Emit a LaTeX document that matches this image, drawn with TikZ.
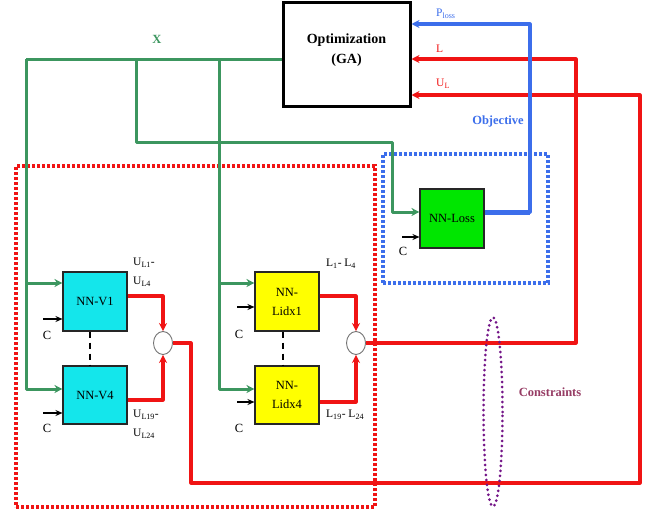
\documentclass[tikz,border=0pt]{standalone}
\usepackage{fontspec}
\setmainfont{Liberation Serif}
\usetikzlibrary{arrows.meta,shapes.geometric}
\definecolor{gline}{RGB}{60,150,95}
\definecolor{rline}{RGB}{240,20,20}
\definecolor{bline}{RGB}{60,110,235}
\definecolor{cyanfill}{RGB}{20,230,235}
\definecolor{yelfill}{RGB}{255,255,0}
\definecolor{lossfill}{RGB}{0,230,0}
\definecolor{purptext}{RGB}{150,60,100}
\definecolor{purpline}{RGB}{115,20,135}
\tikzset{
 nnbox/.style={draw=black!85, line width=1.1pt, minimum width=64pt, minimum height=59pt, inner sep=0pt, font=\fontsize{12.5}{19}\selectfont, align=center},
 sumnode/.style={ellipse, draw=black!55, line width=0.9pt, fill=white, minimum width=19pt, minimum height=23pt, inner sep=0pt},
 gl/.style={draw=gline, line width=3pt, line join=round},
 rl/.style={draw=rline, line width=3.2pt, line join=round},
 bl/.style={draw=bline, line width=3.2pt, line join=round},
 arr/.style={-{Stealth[length=8pt,width=8pt]}},
 carrow/.style={draw=black, line width=1.1pt, -{Stealth[length=7pt,width=6pt]}},
 lab/.style={font=\fontsize{11.5}{19}\selectfont, inner sep=0pt},
 clab/.style={font=\fontsize{12.5}{14}\selectfont, inner sep=0pt},
 blab/.style={font=\bfseries\fontsize{12.5}{14}\selectfont, inner sep=0pt},
 groupbox/.style={line width=3.2pt, dash pattern=on 3pt off 2pt, inner sep=0pt},
}
\begin{document}
\begin{tikzpicture}[x=1pt,y=-1pt]
\useasboundingbox (0,0) rectangle (651,514);
% grouping boxes
\node[groupbox, draw=rline, minimum width=359pt, minimum height=341pt] (cbox) at (195.5,336.5) {};
\node[groupbox, draw=bline, minimum width=165pt, minimum height=129pt] (obox) at (465.5,218.5) {};
% main nodes
\node[draw, line width=3pt, minimum width=127pt, minimum height=104pt] (opt) at (346.5,54) {};
\node[font=\bfseries\fontsize{14}{20}\selectfont, align=center, inner sep=0pt] (optlab) at (346.5,50) {Optimization\\(GA)};
\node[nnbox, fill=cyanfill] (v1) at (95,301.5) {NN-V1};
\node[nnbox, fill=cyanfill, minimum height=58pt] (v4) at (95,395) {NN-V4};
\node[nnbox, fill=yelfill] (lx1) at (287,301.5) {NN-\\Lidx1};
\node[nnbox, fill=yelfill, minimum height=58pt] (lx4) at (287,395) {NN-\\Lidx4};
\node[nnbox, fill=lossfill] (loss) at (452,218.5) {NN-Loss};
\node[sumnode] (sv) at (163,343) {};
\node[sumnode] (sl) at (356,343) {};
% coordinates
\coordinate (gA) at (26,59);
\coordinate (gC) at (136,59);
\coordinate (gD) at (392,142);
\coordinate (gE) at (219,59);
\coordinate (rL) at (576,59);
\coordinate (rB) at (191,483);
\coordinate (rU) at (640,95);
\coordinate (bT) at (530,24);
\coordinate (bM) at (530,212);
\coordinate (c1) at (43,319);
\coordinate (c2) at (43,413);
\coordinate (c3) at (237,307);
\coordinate (c4) at (237,402);
\coordinate (c5) at (402,237);
% green X lines
\draw[gl] (opt.west |- gA) -- (gA);
\draw[gl,arr] (gA) |- ([yshift=18.5pt]v1.west);
\draw[gl,arr] (gA) |- ([yshift=6pt]v4.west);
\draw[gl,arr] (gC) |- (gD) |- ([yshift=6.5pt]loss.west);
\draw[gl,arr] (gE) |- ([yshift=18.5pt]lx1.west);
\draw[gl,arr] (gE) |- ([yshift=6pt]lx4.west);
% red lines
\draw[rl,arr] ([yshift=5.5pt]v1.east) -| (sv.north);
\draw[rl,arr] ([yshift=-5pt]v4.east) -| (sv.south);
\draw[rl,arr] ([yshift=5.5pt]lx1.east) -| (sl.north);
\draw[rl,arr] ([yshift=-7pt]lx4.east) -| (sl.south);
\draw[rl,arr] (sl.east) -| (rL) -- (opt.east |- rL);
\draw[rl,arr] (sv.east) -| (rB) -| (rU) -- (opt.east |- rU);
% blue line
\draw[bl,arr] ([yshift=6.5pt]loss.east) -| (bT) -- (opt.east |- bT);
\draw[draw=bline, line width=5pt] ([yshift=6.5pt]loss.east) -- (bM);
% C inputs
\draw[carrow] (c1) -- (v1.west |- c1);
\draw[carrow] (c2) -- (v4.west |- c2);
\draw[carrow] (c3) -- (lx1.west |- c3);
\draw[carrow] (c4) -- (lx4.west |- c4);
\draw[carrow] (c5) -- (loss.west |- c5);
\node[clab] (cl1) at (47,335) {C};
\node[clab] (cl2) at (47,428) {C};
\node[clab] (cl3) at (239,334) {C};
\node[clab] (cl4) at (239,428) {C};
\node[clab] (cl5) at (403,251) {C};
% dashed links
\draw[line width=1.5pt, dash pattern=on 6pt off 5pt] ([xshift=-5pt]v1.south) -- ([xshift=-5pt]v4.north);
\draw[line width=1.5pt, dash pattern=on 6pt off 5pt] ([xshift=-4pt]lx1.south) -- ([xshift=-4pt]lx4.north);
% labels
\node[lab, anchor=west, align=left] (ul1) at (133,272.5) {U\textsubscript{L1}-\\U\textsubscript{L4}};
\node[lab, anchor=west, align=left] (ul2) at (133,424) {U\textsubscript{L19}-\\U\textsubscript{L24}};
\node[lab, anchor=west] (ll1) at (326,264) {L\textsubscript{1}- L\textsubscript{4}};
\node[lab, anchor=west] (ll2) at (326,415) {L\textsubscript{19}- L\textsubscript{24}};
\node[lab, text=bline, anchor=west] (pl) at (436,14) {P\textsubscript{loss}};
\node[lab, text=rline, anchor=west] (lt) at (436,49) {L};
\node[lab, text=rline, anchor=west] (ut) at (436,84) {U\textsubscript{L}};
\node[blab, text=gline] (xl) at (157,39) {X};
\node[blab, text=bline] (objl) at (498,121) {Objective};
\node[blab, text=purptext] (conl) at (550,392) {Constraints};
% constraints ellipse
\node[ellipse, draw=purpline, line width=3pt, dash pattern=on 0pt off 5pt, line cap=round, minimum width=19pt, minimum height=189pt, inner sep=0pt] (cons) at (493,412) {};
\end{tikzpicture}
\end{document}
